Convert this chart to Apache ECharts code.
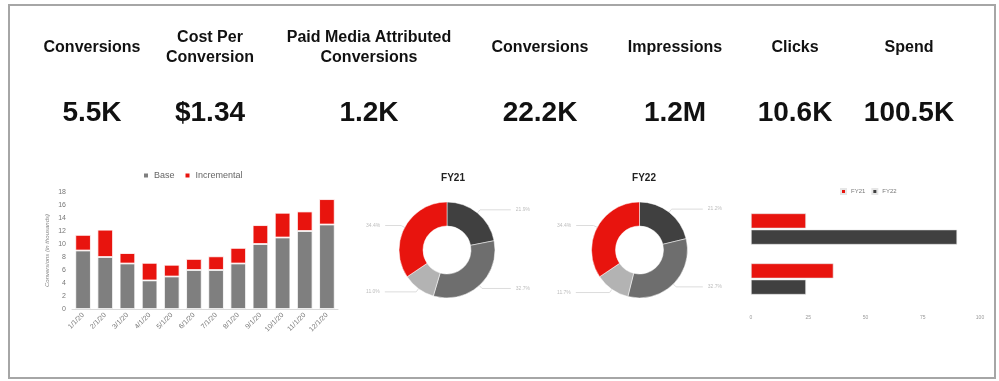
<!DOCTYPE html>
<html>
<head>
<meta charset="utf-8">
<script src="https://cdn.jsdelivr.net/npm/echarts@6/dist/echarts.min.js"></script>
<style>html,body{margin:0;padding:0;background:#fff}#c{width:999px;height:381px}</style>
</head>
<body>
<div id="c"></div>
<script>
// KPI cards
var kpiTitles = ['Conversions', 'Cost Per\nConversion', 'Paid Media Attributed\nConversions', 'Conversions', 'Impressions', 'Clicks', 'Spend'];
var kpiValues = ['5.5K', '$1.34', '1.2K', '22.2K', '1.2M', '10.6K', '100.5K'];

// Monthly stacked bars (conversions in thousands)
var months = ['1/1/20', '2/1/20', '3/1/20', '4/1/20', '5/1/20', '6/1/20', '7/1/20', '8/1/20', '9/1/20', '10/1/20', '11/1/20', '12/1/20'];
var baseVals = [9, 8, 7, 4.4, 5, 6, 6, 7, 10, 11, 12, 13];
var incrementalVals = [2.4, 4.2, 1.6, 2.7, 1.8, 1.7, 2.1, 2.4, 2.9, 3.8, 3.0, 3.9];

// Donuts
var sliceNames = ['A', 'B', 'C', 'D'];
var fy21Share = [21.9, 32.7, 11.0, 34.4];
var fy22Share = [21.2, 32.7, 11.7, 34.4];

// Horizontal bars
var hbarCats = ['Group 1', 'Group 2'];
var hbarFY21 = [24, 36];
var hbarFY22 = [90, 24];
var hbarTicks = [0, 25, 50, 75, 100];

var RED = '#e8140e', GREY = '#7f7f7f', DARK = '#404040', MID = '#6e6e6e', LIGHT = '#b3b3b3';
var FONT = '"Liberation Sans", Arial, sans-serif';

var kpiX = [92, 210, 369, 540, 675, 795, 909];
var graphics = [{
  type: 'rect', shape: {x: 9, y: 5, width: 986, height: 373},
  style: {fill: 'none', stroke: '#a6a6a6', lineWidth: 2}, silent: true
}];
kpiTitles.forEach(function (t, i) {
  graphics.push({type: 'text', x: kpiX[i], y: 48, silent: true,
    style: {text: t, fill: '#111', font: 'bold 16px ' + FONT, align: 'center', verticalAlign: 'middle', lineHeight: 20}});
  graphics.push({type: 'text', x: kpiX[i], y: 113, silent: true,
    style: {text: kpiValues[i], fill: '#111', font: 'bold 28px ' + FONT, align: 'center', verticalAlign: 'middle'}});
});

function pieSeries(name, vals, left, width, cx) {
  return {
    type: 'pie', name: name, left: left, width: width, top: 195, height: 110,
    center: [cx, 55], radius: [24, 48], startAngle: 90, clockwise: true,
    itemStyle: {borderColor: '#fff', borderWidth: 0.5},
    label: {show: true, formatter: function (p) { return p.value.toFixed(1) + '%'; }, fontSize: 5, color: '#bdbdbd', alignTo: 'edge', edgeDistance: 4, padding: [9, 0, 0, 0], fontFamily: FONT},
    labelLine: {show: true, length: 4, length2: 10, lineStyle: {color: '#dcdcdc', width: 1}},
    data: vals.map(function (v, i) { return {name: sliceNames[i], value: v, itemStyle: {color: [DARK, MID, LIGHT, RED][i]}}; })
  };
}

var option = {
  animation: false,
  textStyle: {fontFamily: FONT},
  graphic: graphics,
  title: [
    {text: 'FY21', left: 448, top: 168, textAlign: 'center', textStyle: {fontSize: 10, fontWeight: 'bold', color: '#222'}},
    {text: 'FY22', left: 639, top: 168, textAlign: 'center', textStyle: {fontSize: 10, fontWeight: 'bold', color: '#222'}}
  ],
  legend: [
    {data: ['Base', 'Incremental'], left: 137, top: 166, itemWidth: 6, itemHeight: 6, itemGap: 9, textStyle: {fontSize: 9, color: '#666'}, icon: 'rect'},
    {data: ['FY21', 'FY22'], left: 835, top: 183, itemWidth: 5, itemHeight: 5, itemGap: 6, textStyle: {fontSize: 6, color: '#777'}, icon: 'rect'}
  ],
  grid: [
    {left: 72, right: 661, top: 192, bottom: 72},
    {left: 751, right: 19, top: 204, bottom: 77}
  ],
  xAxis: [
    {type: 'category', gridIndex: 0, data: months,
      axisLine: {lineStyle: {color: '#d9d9d9'}}, axisTick: {show: false},
      axisLabel: {rotate: 45, interval: 0, fontSize: 7, color: '#777', margin: 5}},
    {type: 'value', gridIndex: 1, min: 0, max: 100, interval: 25,
      axisLine: {show: false}, axisTick: {show: false}, splitLine: {show: false},
      axisLabel: {fontSize: 5, color: '#9a9a9a', margin: 11, formatter: function (v) { return hbarTicks.indexOf(v) >= 0 ? String(v) : ''; }}}
  ],
  yAxis: [
    {type: 'value', gridIndex: 0, min: 0, max: 18, interval: 2,
      name: 'Conversions (in thousands)', nameLocation: 'middle', nameGap: 22, nameRotate: 90,
      nameTextStyle: {fontSize: 6, color: '#888', fontStyle: 'italic'},
      axisLine: {show: false}, axisTick: {show: false}, splitLine: {show: false},
      axisLabel: {fontSize: 7, color: '#777', margin: 6}},
    {type: 'category', gridIndex: 1, data: hbarCats, inverse: true,
      axisLine: {show: false}, axisTick: {show: false}, axisLabel: {show: false}}
  ],
  series: [
    {name: 'Base', type: 'bar', stack: 'm', xAxisIndex: 0, yAxisIndex: 0, data: baseVals, barWidth: '70%',
      itemStyle: {color: GREY, borderColor: '#fff', borderWidth: 0.8}},
    {name: 'Incremental', type: 'bar', stack: 'm', xAxisIndex: 0, yAxisIndex: 0, data: incrementalVals, barWidth: '70%',
      itemStyle: {color: RED, borderColor: '#fff', borderWidth: 0.8}},
    pieSeries('FY21 share', fy21Share, 362, 172, 85),
    pieSeries('FY22 share', fy22Share, 553, 173, 86.5),
    {name: 'FY21', type: 'bar', xAxisIndex: 1, yAxisIndex: 1, data: hbarFY21, barWidth: 15, barGap: '8%',
      itemStyle: {color: RED, borderColor: '#e6e6e6', borderWidth: 0.6}},
    {name: 'FY22', type: 'bar', xAxisIndex: 1, yAxisIndex: 1, data: hbarFY22, barWidth: 15, barGap: '8%',
      itemStyle: {color: DARK, borderColor: '#e6e6e6', borderWidth: 0.6}}
  ]
};
var chart = echarts.init(document.getElementById('c'), null, {renderer: 'canvas'});
chart.setOption(option);
</script>
</body>
</html>
